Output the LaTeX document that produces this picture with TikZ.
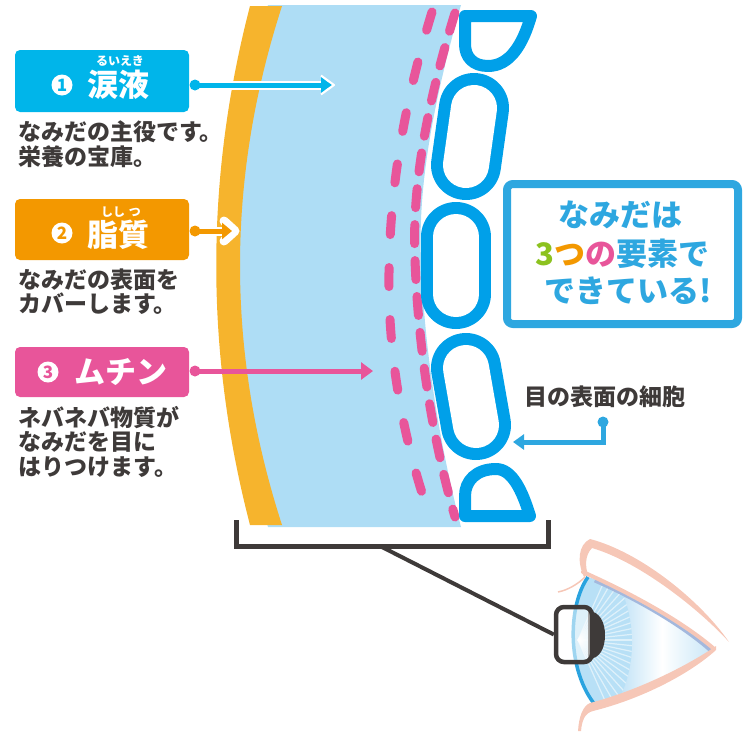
\documentclass[tikz,border=0pt]{standalone}
\usepackage{fontspec}
\newfontfamily\jp{Noto Sans CJK JP}
\usetikzlibrary{arrows.meta}

\definecolor{tearblue}{HTML}{00B5EA}
\definecolor{lipidorange}{HTML}{F39800}
\definecolor{mucinpink}{HTML}{E8559A}
\definecolor{layerorange}{HTML}{F6B42D}
\definecolor{layerblue}{HTML}{AEDDF5}
\definecolor{cellblue}{HTML}{00A0E9}
\definecolor{frameblue}{HTML}{2EA7E0}
\definecolor{inkgray}{HTML}{3E3A39}
\definecolor{lidpink}{HTML}{F6C7B7}
\definecolor{corneablue}{HTML}{2AA3DF}
\definecolor{irisblue}{HTML}{B8E0F6}
\definecolor{lidshadow}{HTML}{A3B8DD}
\definecolor{glowblue}{HTML}{C4E4F7}
\definecolor{threegreen}{HTML}{8CC21F}

% capsule-shaped cell: outer ring of cell wall, white inside
\newcommand\drawcapsule[2]{%
  \draw[cellblue, line width=70pt, line cap=round] #1 -- #2;
  \draw[white, line width=46pt, line cap=round] #1 -- #2;}

\begin{document}
\begin{tikzpicture}[x=1pt, y=-1pt,
  labelbox/.style={rounded corners=5pt, minimum width=174pt, inner sep=0pt},
  numdigit/.style={inner sep=0pt, font=\jp\bfseries\fontsize{17}{17}\selectfont},
  titletext/.style={text=white, inner sep=0pt, font=\jp\bfseries\fontsize{31}{31}\selectfont},
  rubytext/.style={text=white, inner sep=0pt, font=\jp\bfseries\fontsize{12}{12}\selectfont},
  desctext/.style={text=inkgray, inner sep=0pt, anchor=west, font=\jp\bfseries\fontsize{23}{23}\selectfont},
  headline/.style={text=frameblue, inner sep=0pt, font=\jp\bfseries\fontsize{31}{31}\selectfont},
  cellwall/.style={draw=cellblue, line width=12pt, fill=white, line join=round},
  mucindash/.style={mucinpink, line width=9pt, line cap=round},
  casing/.style={white, line width=9pt},
  lidline/.style={lidpink, line width=4pt, line cap=round}]

\useasboundingbox (0,0) rectangle (746,731);

% ---------- tear film layers ----------
\fill[layerblue] (268,5) -- (461,5) .. controls (431,110) and (418,190) .. (421,260)
  .. controls (424,340) and (436,430) .. (461,527) -- (268,527)
  .. controls (212,352) and (212,179) .. (268,5) -- cycle;
\fill[layerorange] (250,6) -- (282,6) .. controls (226,179) and (226,352) .. (282,525)
  -- (250,525) .. controls (205,352) and (205,179) .. (250,6) -- cycle;

% mucin (dashed lines)
\draw[mucindash, dash pattern=on 19pt off 33pt] (432,12) .. controls (402,110) and (388,200) .. (389,290)
  .. controls (390,380) and (410,460) .. (430,517);
\draw[mucindash, dash pattern=on 19pt off 17pt] (455,13) .. controls (425,110) and (412,190) .. (415,260)
  .. controls (418,340) and (430,430) .. (455,517);

% ---------- surface cells ----------
\draw[cellwall] (465,16) -- (531,16) .. controls (523,44) and (510,66) .. (488,66)
  .. controls (473,66) and (465,57) .. (465,44) -- cycle;
\drawcapsule{(474,108)}{(466,165)}
\drawcapsule{(456,237)}{(456,294)}
\drawcapsule{(466,368)}{(476,425)}
\draw[cellwall] (465,516) -- (530,516) .. controls (522,490) and (512,469) .. (496,469)
  .. controls (476,469) and (465,481) .. (465,496) -- cycle;
\coordinate (celltarget) at (513,442);

% ---------- label 1: tears ----------
\node[labelbox, fill=tearblue, minimum height=62pt] (tearbox) at (102,81) {};
\fill[white] (62,85) circle (10.5);
\node[numdigit, text=tearblue] (tearnum) at (62,85) {1};
\node[titletext] (tearname) at (118,85) {涙液};
\node[rubytext] (tearruby) at (120,61) {るいえき};
\node[desctext] (teardesc1) at (18,132) {なみだの主役です。};
\node[desctext] (teardesc2) at (18,157) {栄養の宝庫。};
\coordinate (tearstart) at (195,85);
\coordinate (tearend) at (334,85);
\draw[casing] (tearstart) -- ([xshift=-6pt]tearend);
\draw[tearblue, line width=5pt, -{Triangle[length=11pt, width=15pt]}] (tearstart) -- ([xshift=-2pt]tearend);
\draw[white, line width=2pt, line join=round] ([xshift=-13pt, yshift=-9.5pt]tearend) -- (tearend) -- ([xshift=-13pt, yshift=9.5pt]tearend);
\fill[tearblue] (tearstart) circle (5.5);

% ---------- label 2: lipid ----------
\node[labelbox, fill=lipidorange, minimum height=61pt] (lipidbox) at (102,229.5) {};
\fill[white] (62,233) circle (10.5);
\node[numdigit, text=lipidorange] (lipidnum) at (62,233) {2};
\node[titletext] (lipidname) at (118,235) {脂質};
\node[rubytext] (lipidruby) at (121,212) {しし\hspace{4pt}つ};
\node[desctext] (lipiddesc1) at (18,280) {なみだの表面を};
\node[desctext] (lipiddesc2) at (18,304) {カバーします。};
\coordinate (lipidstart) at (195,231);
\coordinate (lipidend) at (235,231);
\draw[casing] (lipidstart) -- ([xshift=-6pt]lipidend);
\draw[white, line width=9pt, line join=round, line cap=round] ([xshift=-11pt, yshift=-10pt]lipidend) -- (lipidend) -- ([xshift=-11pt, yshift=10pt]lipidend);
\draw[lipidorange, line width=5pt, -{Triangle[length=10pt, width=16pt]}] (lipidstart) -- ([xshift=-3pt]lipidend);
\fill[lipidorange] (lipidstart) circle (5.5);

% ---------- label 3: mucin ----------
\node[labelbox, fill=mucinpink, minimum height=50pt] (mucinbox) at (102,372) {};
\fill[white] (48,372) circle (10.5);
\node[numdigit, text=mucinpink] (mucinnum) at (48,372) {3};
\node[titletext] (mucinname) at (121,372) {ムチン};
\node[desctext] (mucindesc1) at (18,418) {ネバネバ物質が};
\node[desctext] (mucindesc2) at (18,442) {なみだを目に};
\node[desctext] (mucindesc3) at (18,467) {はりつけます。};
\coordinate (mucinstart) at (195,371);
\coordinate (mucinend) at (373,371);
\draw[mucinpink, line width=5pt, -{Triangle[length=12pt, width=17pt]}] (mucinstart) -- (mucinend);
\fill[mucinpink] (mucinstart) circle (5.5);

% ---------- message box ----------
\node[draw=frameblue, line width=8pt, rounded corners=6pt, fill=white,
  minimum width=231pt, minimum height=140pt, inner sep=0pt] (msgbox) at (622.5,254) {};
\node[headline] (msg1) at (620,215) {なみだは};
\node[headline] (msg2) at (622.5,254) {{\color{threegreen}3}{\color{lipidorange}つ}{\color{mucinpink}の}要素で};
\node[headline] (msg3) at (628,291) {できている!};

% ---------- cell label ----------
\node[text=inkgray, inner sep=0pt, font=\jp\bfseries\fontsize{23}{23}\selectfont] (celllabel) at (605,397) {目の表面の細胞};
\coordinate (cellstart) at (603,422);
\draw[frameblue, line width=5pt, -{Triangle[length=11pt, width=15pt]}] (cellstart) -- (603,442) -- (celltarget);
\fill[frameblue] (cellstart) circle (5.5);

% ---------- bracket ----------
\draw[inkgray, line width=5pt] (236,520) -- (236,546) -- (548,546) -- (548,520);
\coordinate (bracketmid) at (380,546);

% ---------- eye ----------
\begin{scope}
  \clip (588,576) .. controls (630,593) and (680,620) .. (713,648)
    .. controls (685,670) and (635,694) .. (596,705)
    .. controls (566,670) and (568,605) .. (588,576) -- cycle;
  \fill[white] (560,560) rectangle (720,715);
  \shade[left color=glowblue, right color=white] (622,560) rectangle (662,715);
  \shade[left color=white, right color=glowblue] (662,560) rectangle (716,715);
\end{scope}
\begin{scope}
  \clip (588,577) .. controls (600,581) and (610,584) .. (620,588)
    .. controls (636,620) and (636,665) .. (620,697)
    .. controls (612,700) and (604,703) .. (596,705)
    .. controls (566,670) and (568,605) .. (588,577) -- cycle;
  \fill[irisblue] (560,560) rectangle (640,715);
  \foreach \a in {-66,-60,...,66}
    \draw[white, opacity=.55, line width=1.2pt] (578,640) -- ++(\a:80);
\end{scope}
\draw[lidshadow, line width=5pt] (595,580) .. controls (634,597) and (682,624) .. (711,650);
\draw[corneablue, line width=3.5pt] (588,577) .. controls (568,605) and (566,670) .. (596,706);
\draw[lidline] (583,572) .. controls (630,593) and (680,620) .. (713,648);
\fill[lidpink] (584,577) .. controls (577,562) and (578,545) .. (590,539)
  .. controls (640,552) and (700,600) .. (729,642)
  .. controls (700,610) and (640,562) .. (592,548)
  .. controls (585,555) and (585,566) .. (588,575) -- cycle;
\draw[lidpink, line width=1.5pt] (558,592) .. controls (568,590) and (578,584) .. (585,577);
\fill[lidpink] (716,646) .. controls (690,664) and (640,690) .. (590,703)
  .. controls (583,706) and (579,716) .. (578,731) -- (581,731)
  .. controls (582,720) and (585,713) .. (593,711)
  .. controls (645,698) and (692,672) .. (716,650) -- cycle;
\fill[inkgray] (588,611) .. controls (600,611) and (605,623) .. (605,635)
  .. controls (605,648) and (600,659) .. (588,659) -- cycle;
\node[draw=inkgray, line width=4.5pt, rounded corners=8pt, fill=white, fill opacity=.55,
  minimum width=36pt, minimum height=55pt, inner sep=0pt] (lensbox) at (574,634.5) {};
\draw[inkgray, line width=4pt] (bracketmid) -- (lensbox.west);

\end{tikzpicture}
\end{document}
